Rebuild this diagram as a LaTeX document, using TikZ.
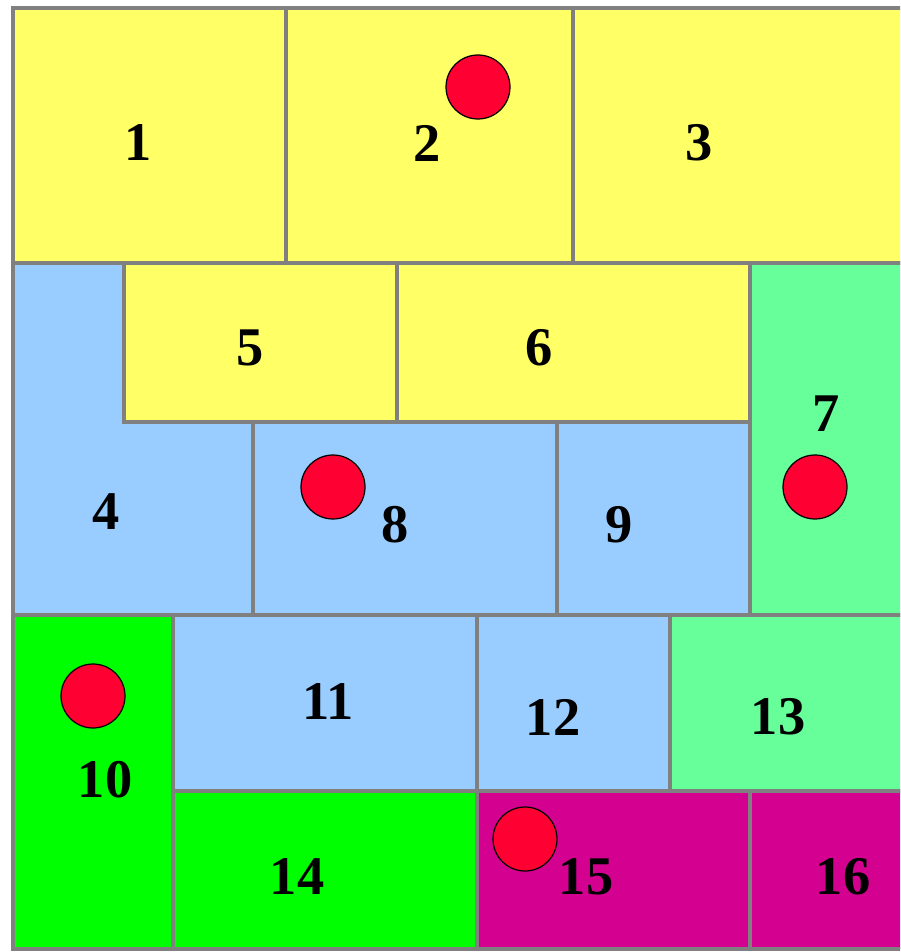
\documentclass[tikz,border=0pt]{standalone}
\usepackage{fontspec}
\setmainfont{Liberation Serif}
\usepackage{tikz}
\usetikzlibrary{positioning}
\definecolor{cyellow}{HTML}{FFFF66}
\definecolor{cblue}{HTML}{99CCFF}
\definecolor{cmint}{HTML}{66FF99}
\definecolor{cgreen}{HTML}{00FF00}
\definecolor{cmagenta}{HTML}{D4008F}
\definecolor{cred}{HTML}{FF0033}
\definecolor{cedge}{HTML}{808080}

\begin{document}
\begin{tikzpicture}[
  x=0.02cm, y=-0.02cm,
  region/.style={draw=cedge, line width=2.6pt},
  num/.style={font=\fontsize{31}{31}\selectfont\bfseries, inner sep=0pt},
  marker/.style={circle, draw=black, fill=cred, line width=0.7pt, minimum size=1.28cm, inner sep=0pt}
]
  \clip (0,0) rectangle (900,952);
  \fill[white] (0,0) rectangle (900,952);

  % --- rectangular regions ---
  \foreach \xa/\ya/\xb/\yb/\c in {13/8/286/263/cyellow, 286/8/573/263/cyellow, 573/8/920/263/cyellow,
      124/263/397/422/cyellow, 397/263/750/422/cyellow, 750/263/920/615/cmint,
      253/422/557/615/cblue, 557/422/750/615/cblue,
      13/615/173/949/cgreen, 173/615/477/791/cblue, 477/615/670/791/cblue, 670/615/920/791/cmint,
      173/791/477/949/cgreen, 477/791/750/949/cmagenta, 750/791/920/949/cmagenta}
    {\draw[region, fill=\c] (\xa,\ya) rectangle (\xb,\yb);}

  % --- region 4 (L shape) ---
  \draw[region, fill=cblue] (13,263) -- (124,263) -- (124,422) -- (253,422) -- (253,615) -- (13,615) -- cycle;

  % --- markers ---
  \node[marker] (m2) at (478,87) {};
  \node[marker] (m8) at (333,487) {};
  \node[marker] (m7) at (815,487) {};
  \node[marker] (m10) at (93,696) {};
  \node[marker] (m15) at (525,839) {};

  % --- labels ---
  \foreach \n/\x/\y in {1/138/143, 2/427/143, 3/699/143, 5/250/348, 6/539/348, 7/826/414,
      4/106/512, 8/395/525, 9/619/525, 10/105/780, 11/328/702, 12/553/717, 13/778/717,
      14/297/877, 15/586/877, 16/843/877}
    {\node[num] (l\n) at (\x,\y) {\n};}
\end{tikzpicture}
\end{document}
